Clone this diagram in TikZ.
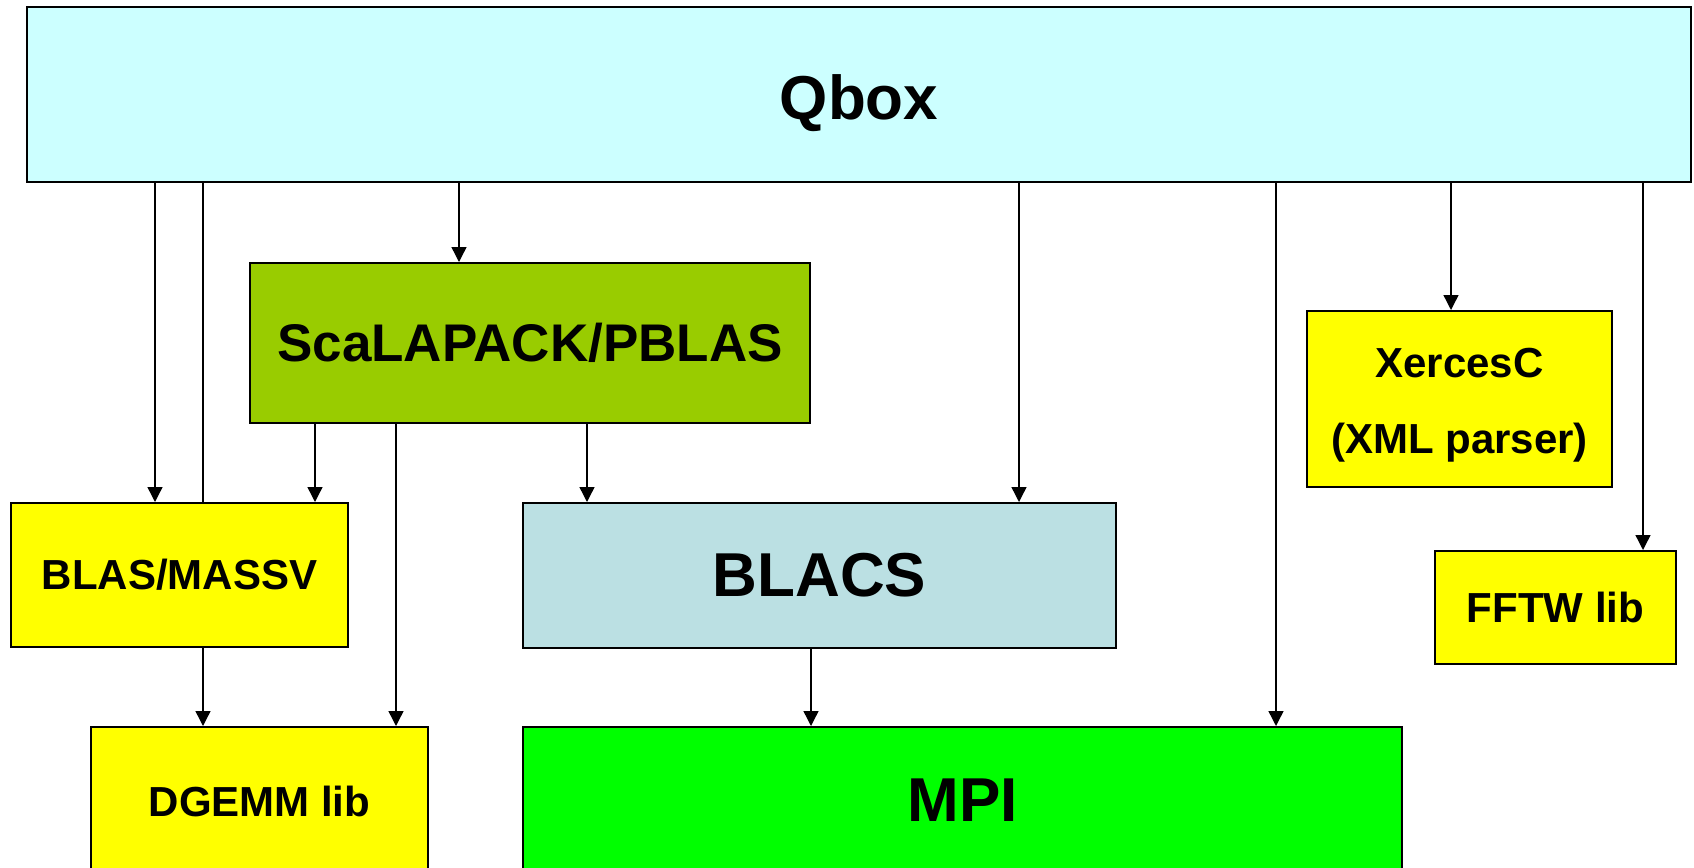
\documentclass[tikz,border=0pt]{standalone}
\usepackage{fontspec}
\setmainfont{Liberation Sans}
\usetikzlibrary{arrows.meta,backgrounds}

\definecolor{qboxcyan}{HTML}{CCFFFF}
\definecolor{scagreen}{HTML}{99CC00}
\definecolor{libyellow}{HTML}{FFFF00}
\definecolor{blacsblue}{HTML}{BBE0E3}
\definecolor{mpigreen}{HTML}{00FF00}

\tikzset{
  libbox/.style={draw=black, line width=1pt, rectangle, inner sep=0pt,
    font=\bfseries, align=center},
  smalltext/.style={font=\fontsize{21}{38}\selectfont\bfseries},
  midtext/.style={font=\fontsize{26.5}{32}\selectfont\bfseries},
  bigtext/.style={font=\fontsize{31}{36}\selectfont\bfseries},
  dep/.style={draw=black, line width=0.7pt, -{Triangle[length=7.5pt,width=7.5pt]}}
}

\begin{document}
\begin{tikzpicture}[x=0.5pt,y=-0.5pt]
  \useasboundingbox (0,0) rectangle (1694,868);
  \clip (0,0) rectangle (1694,868);

  % boxes
  \node[libbox, bigtext, fill=qboxcyan, minimum width=832pt, minimum height=87.5pt,
        text height=24.5pt, text depth=0pt]
    (qbox) at (859,94.5) {Qbox};
  \node[libbox, midtext, fill=scagreen, minimum width=280pt, minimum height=80pt]
    (scalapack) at (530,343) {ScaLAPACK/PBLAS};
  \node[libbox, smalltext, fill=libyellow, minimum width=168.5pt, minimum height=72pt]
    (blas) at (179.5,575) {BLAS/MASSV};
  \node[libbox, bigtext, fill=blacsblue, minimum width=296.5pt, minimum height=72.5pt]
    (blacs) at (819.5,575.5) {BLACS};
  % two-line label: baseline of the box sits on the last line
  \node[libbox, smalltext, fill=libyellow, minimum width=152.5pt, minimum height=88pt,
        text height=54pt, text depth=0pt]
    (xerces) at (1459.5,399) {XercesC\\(XML parser)};
  \node[libbox, smalltext, fill=libyellow, minimum width=120.5pt, minimum height=56.5pt]
    (fftw) at (1555.5,607.5) {FFTW lib};
  \node[libbox, smalltext, fill=libyellow, minimum width=168.5pt, minimum height=74pt]
    (dgemm) at (259.5,801) {DGEMM lib};
  \node[libbox, bigtext, fill=mpigreen, minimum width=439.5pt, minimum height=73pt]
    (mpi) at (962.5,800) {MPI};

  % columns of the dependency lines
  \coordinate (xa) at (155,0);
  \coordinate (xb) at (203,0);
  \coordinate (xc) at (459,0);
  \coordinate (xd) at (315,0);
  \coordinate (xe) at (396,0);
  \coordinate (xf) at (587,0);
  \coordinate (xg) at (1019,0);
  \coordinate (xh) at (1276,0);
  \coordinate (xi) at (1451,0);
  \coordinate (xj) at (1643,0);
  \coordinate (xk) at (811,0);

  % Qbox -> DGEMM passes behind BLAS/MASSV
  \begin{scope}[on background layer]
    \draw[dep] (qbox.south -| xb) -- (dgemm.north -| xb);
  \end{scope}

  % dependencies
  \draw[dep] (qbox.south -| xa) -- (blas.north -| xa);
  \draw[dep] (qbox.south -| xc) -- (scalapack.north -| xc);
  \draw[dep] (qbox.south -| xg) -- (blacs.north -| xg);
  \draw[dep] (qbox.south -| xh) -- (mpi.north -| xh);
  \draw[dep] (qbox.south -| xi) -- (xerces.north -| xi);
  \draw[dep] (qbox.south -| xj) -- (fftw.north -| xj);
  \draw[dep] (scalapack.south -| xd) -- (blas.north -| xd);
  \draw[dep] (scalapack.south -| xe) -- (dgemm.north -| xe);
  \draw[dep] (scalapack.south -| xf) -- (blacs.north -| xf);
  \draw[dep] (blacs.south -| xk) -- (mpi.north -| xk);
\end{tikzpicture}
\end{document}
